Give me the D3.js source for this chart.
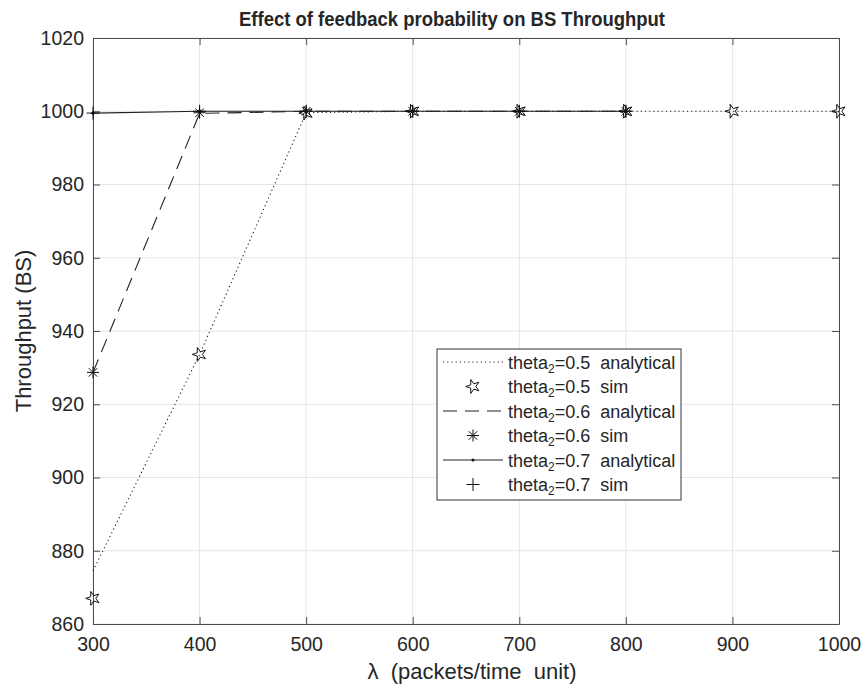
<!DOCTYPE html>
<meta charset="utf-8">
<style>
    body { margin: 0; background: #fff; }
    text { font-family: "Liberation Sans", Arial, sans-serif; fill: #262626; }
    .grid line { stroke: #e6e6e6; stroke-width: 1; }
    .axis path, .axis line { stroke: #4d4d4d; }
</style>
<svg width="864" height="690"></svg>
<script src="https://d3js.org/d3.v7.min.js"></script>
<script>
    // x values (lambda, packets/time unit)
    var lambda05 = [300, 400, 500, 600, 700, 800, 900, 1000];
    var lambda06 = [300, 400, 500, 600, 700, 800];
    var lambda07 = [300, 400, 500, 600, 700, 800];

    var ana05 = [874.5, 933.6, 999.6, 1000, 1000, 1000, 1000, 1000];
    var sim05 = [867, 933.6, 999.5, 1000, 1000, 1000, 1000, 1000];
    var ana06 = [928.7, 999.4, 1000, 1000, 1000, 1000];
    var sim06 = [928.7, 999.6, 1000, 1000, 1000, 1000];
    var ana07 = [999.5, 1000, 1000, 1000, 1000, 1000];
    var sim07 = [999.5, 1000, 1000, 1000, 1000, 1000];

    var xTicks = [300, 400, 500, 600, 700, 800, 900, 1000];
    var yTicks = [860, 880, 900, 920, 940, 960, 980, 1000, 1020];

    var legendLabels = ["0.5", "0.5", "0.6", "0.6", "0.7", "0.7"];
    var legendKinds = ["analytical", "sim", "analytical", "sim", "analytical", "sim"];

    var svg = d3.select("svg"),
        margin = {left: 93, right: 25, top: 38, bottom: 66},
        width = 864 - margin.left - margin.right,
        height = 690 - margin.top - margin.bottom;

    var g = svg.append("g").attr("transform", "translate(" + margin.left + "," + margin.top + ")");

    var x = d3.scaleLinear().domain([300, 1000]).range([0, width]);
    var y = d3.scaleLinear().domain([860, 1020]).range([height, 0]);

    // grid
    var grid = g.append("g").attr("class", "grid");
    grid.selectAll(".gx").data(xTicks).enter().append("line")
        .attr("x1", d => x(d)).attr("x2", d => x(d)).attr("y1", 0).attr("y2", height);
    grid.selectAll(".gy").data(yTicks).enter().append("line")
        .attr("y1", d => y(d)).attr("y2", d => y(d)).attr("x1", 0).attr("x2", width);

    // axes (ticks inside like matlab)
    var fmt = d3.format("d");
    g.append("g").attr("class", "axis").attr("transform", "translate(0," + height + ")")
        .call(d3.axisBottom(x).tickValues(xTicks).tickFormat(fmt).tickSizeInner(-7).tickSizeOuter(0).tickPadding(13));
    g.append("g").attr("class", "axis")
        .call(d3.axisLeft(y).tickValues(yTicks).tickFormat(fmt).tickSizeInner(-7).tickSizeOuter(0).tickPadding(9));
    g.append("g").attr("class", "axis")
        .call(d3.axisTop(x).tickValues(xTicks).tickSizeInner(-7).tickSizeOuter(0).tickFormat(""));
    g.append("g").attr("class", "axis").attr("transform", "translate(" + width + ",0)")
        .call(d3.axisRight(y).tickValues(yTicks).tickSizeInner(-7).tickSizeOuter(0).tickFormat(""));
    svg.selectAll(".axis text").style("font-size", "19.5px").attr("fill", "#262626");
    svg.selectAll(".axis path").attr("stroke", "#4d4d4d");
    svg.selectAll(".axis .tick line").attr("stroke", "#4d4d4d");

    var line = d3.line();

    function pts(xs, ys) { return xs.map((v, i) => [x(v), y(ys[i])]); }

    g.append("path").attr("d", line(pts(lambda05, ana05)))
        .attr("fill", "none").attr("stroke", "#222").attr("stroke-width", 1.1)
        .attr("stroke-dasharray", "1.2,3");
    g.append("path").attr("d", line(pts(lambda06, ana06)))
        .attr("fill", "none").attr("stroke", "#222").attr("stroke-width", 1.1)
        .attr("stroke-dasharray", "14,8");
    g.append("path").attr("d", line(pts(lambda07, ana07)))
        .attr("fill", "none").attr("stroke", "#222").attr("stroke-width", 1.1);

    var star = d3.symbol().type(d3.symbolStar).size(60);
    function asterisk(s) {
        var p = "";
        for (var k = 0; k < 4; k++) {
            var a = k * Math.PI / 4;
            var dx = s * Math.cos(a), dy = s * Math.sin(a);
            p += "M" + (-dx) + "," + (-dy) + "L" + dx + "," + dy;
        }
        return p;
    }
    function plus(s) { return "M" + (-s) + ",0L" + s + ",0M0," + (-s) + "L0," + s; }

    function drawMarkers(xs, ys, type) {
        var sel = g.append("g").selectAll("path").data(xs.map((v, i) => [v, ys[i]])).enter().append("path")
            .attr("transform", d => "translate(" + x(d[0]) + "," + y(d[1]) + ")")
            .attr("fill", "none").attr("stroke", "#111").attr("stroke-width", 1);
        if (type === "star") sel.attr("d", star).attr("transform", d => "translate(" + x(d[0]) + "," + y(d[1]) + ") rotate(-90)");
        if (type === "ast") sel.attr("d", asterisk(6));
        if (type === "plus") sel.attr("d", plus(6.5));
        if (type === "dot") sel.attr("d", d3.symbol().type(d3.symbolCircle).size(6)).attr("fill", "#111");
    }
    drawMarkers(lambda05, sim05, "star");
    drawMarkers(lambda06, sim06, "ast");
    drawMarkers(lambda07, ana07, "dot");
    drawMarkers(lambda07, sim07, "plus");

    // legend
    var lg = svg.append("g").attr("transform", "translate(437,349)");
    lg.append("rect").attr("width", 244).attr("height", 151)
        .attr("fill", "#fff").attr("stroke", "#333").attr("stroke-width", 1);
    var rowH = 24.5;
    legendLabels.forEach(function(lab, i) {
        var cy = 13 + i * rowH;
        var row = lg.append("g").attr("transform", "translate(0," + cy + ")");
        if (i === 0) row.append("line").attr("x1", 6).attr("x2", 66).attr("stroke", "#222").attr("stroke-dasharray", "1.2,3");
        if (i === 2) row.append("line").attr("x1", 6).attr("x2", 66).attr("stroke", "#222").attr("stroke-dasharray", "14,8");
        if (i === 4) {
            row.append("line").attr("x1", 6).attr("x2", 66).attr("stroke", "#222");
            row.append("circle").attr("cx", 36).attr("r", 1.5).attr("fill", "#111");
        }
        if (i === 1) row.append("path").attr("d", star).attr("transform", "translate(36,0) rotate(-90)").attr("fill", "none").attr("stroke", "#111");
        if (i === 3) row.append("path").attr("d", asterisk(6)).attr("transform", "translate(36,0)").attr("fill", "none").attr("stroke", "#111");
        if (i === 5) row.append("path").attr("d", plus(6.5)).attr("transform", "translate(36,0)").attr("fill", "none").attr("stroke", "#111");
        var t = row.append("text").attr("x", 71).attr("y", 6.5).style("font-size", "18px").attr("xml:space", "preserve");
        t.append("tspan").text("theta");
        t.append("tspan").text("2").attr("dy", 4).style("font-size", "12px");
        t.append("tspan").text("=" + lab + "  " + legendKinds[i]).attr("dy", -4);
    });

    // title and axis labels
    svg.append("text").attr("x", 452).attr("y", 26).attr("text-anchor", "middle")
        .style("font-size", "21px").style("font-weight", "bold").attr("fill", "#000")
        .attr("textLength", 426).attr("lengthAdjust", "spacingAndGlyphs")
        .text("Effect of feedback probability on BS Throughput");
    svg.append("text").attr("x", 472).attr("y", 679).attr("text-anchor", "middle")
        .style("font-size", "22px").attr("xml:space", "preserve")
        .text("λ  (packets/time  unit)");
    svg.append("text").attr("transform", "translate(31," + (margin.top + height / 2) + ") rotate(-90)")
        .attr("text-anchor", "middle").style("font-size", "22px")
        .text("Throughput (BS)");
</script>
